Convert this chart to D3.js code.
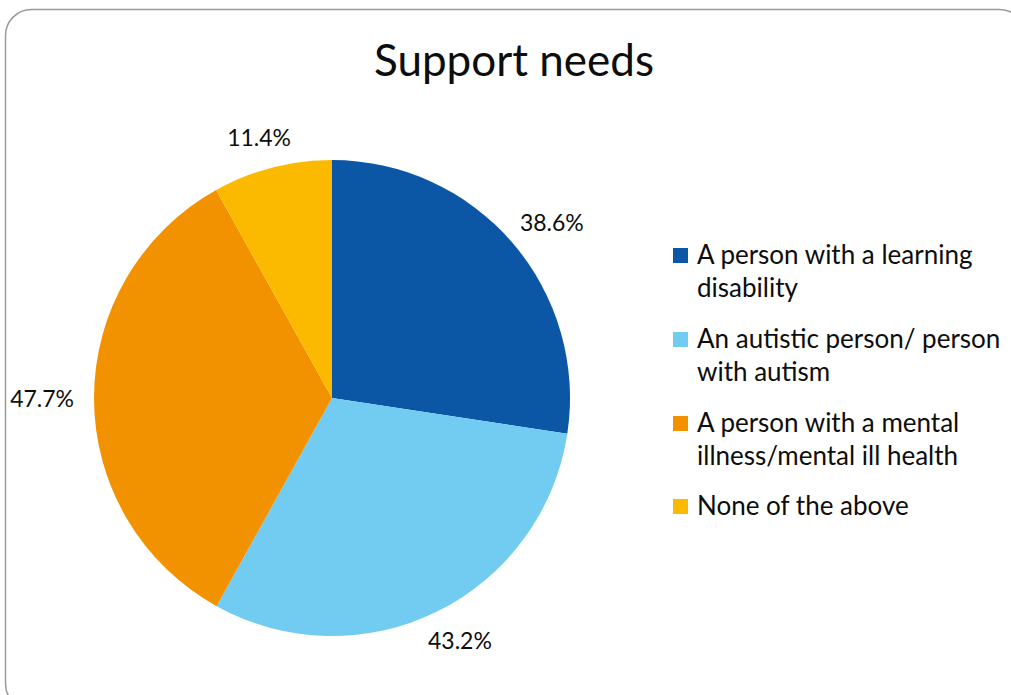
<!DOCTYPE html>
<html>
<head>
<meta charset="utf-8">
<script src="https://cdn.jsdelivr.net/npm/d3@7/dist/d3.min.js"></script>
<style>
  html, body { margin: 0; padding: 0; background: #fff; }
  svg { display: block; }
  text { font-family: Lato, "Open Sans", sans-serif; fill: #0d0d0d; }
</style>
</head>
<body>
<svg id="chart" width="1011" height="695"></svg>
<script>
// Survey responses: share of respondents supporting each group (multiple answers allowed)
const categories = [
  "A person with a learning disability",
  "An autistic person/ person with autism",
  "A person with a mental illness/mental ill health",
  "None of the above"
];
const values = [38.6, 43.2, 47.7, 11.4];
const legendLines = [
  ["A person with a learning", "disability"],
  ["An autistic person/ person", "with autism"],
  ["A person with a mental", "illness/mental ill health"],
  ["None of the above"]
];
const colors = ["#0B56A5", "#72CBF1", "#F39200", "#FBBA00"];
const title = "Support needs";

const svg = d3.select("#chart");

// Chart frame with rounded corners
svg.append("rect")
  .attr("x", 5.5).attr("y", 9.5)
  .attr("width", 1020).attr("height", 700)
  .attr("rx", 26).attr("ry", 26)
  .attr("fill", "#fff")
  .attr("stroke", "#9a9a9a")
  .attr("stroke-width", 1.5);

svg.append("text")
  .attr("x", 514).attr("y", 76)
  .attr("text-anchor", "middle")
  .style("font-size", "44px")
  .text(title);

const cx = 332, cy = 398, R = 238;
const color = d3.scaleOrdinal().domain(categories).range(colors);

const pie = d3.pie().sort(null).value(d => d.value);
const arcs = pie(categories.map((c, i) => ({ cat: c, value: values[i] })));
const arc = d3.arc().innerRadius(0).outerRadius(R);

const g = svg.append("g").attr("transform", `translate(${cx},${cy})`);
g.selectAll("path.slice")
  .data(arcs)
  .join("path")
  .attr("class", "slice")
  .attr("d", arc)
  .attr("fill", d => color(d.data.cat));

// Data labels just outside the slice edge, box pushed away along the mid-angle
const fmt = d => d3.format(".1f")(d) + "%";
const labelFont = 23;
g.selectAll("text.lbl")
  .data(arcs)
  .join("text")
  .attr("class", "lbl")
  .style("font-size", labelFont + "px")
  .attr("text-anchor", "middle")
  .attr("dominant-baseline", "central")
  .text(d => fmt(d.data.value))
  .each(function(d) {
    const a = (d.startAngle + d.endAngle) / 2;
    const s = Math.sin(a), c = -Math.cos(a);
    const w = this.getComputedTextLength(), h = labelFont;
    const gap = 20;
    const x = (R + gap) * s + (w / 2) * s;
    const y = (R + gap) * c + (h / 2) * c;
    d3.select(this).attr("x", x).attr("y", y);
  });

// Legend
const legendX = 673, legendY0 = 248;
const itemGap = [0, 84, 168, 251];
const lineH = 33;
const leg = svg.append("g");
legendLines.forEach((lines, i) => {
  const y = legendY0 + itemGap[i];
  leg.append("rect")
    .attr("x", legendX).attr("y", y)
    .attr("width", 15).attr("height", 15)
    .attr("fill", color(categories[i]));
  const t = leg.append("text")
    .attr("x", legendX + 24).attr("y", y + 16)
    .style("font-size", "26px");
  lines.forEach((ln, j) => {
    t.append("tspan")
      .attr("x", legendX + 24)
      .attr("dy", j === 0 ? 0 : lineH)
      .text(ln);
  });
});
</script>
</body>
</html>
